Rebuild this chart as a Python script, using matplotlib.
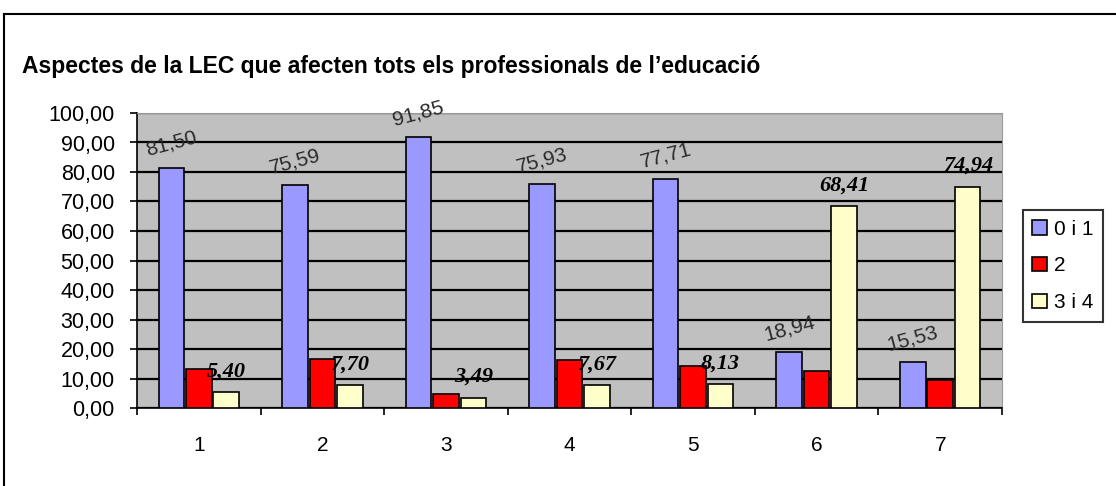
import numpy as np
import matplotlib
matplotlib.use('Agg')
import matplotlib.pyplot as plt
from matplotlib.lines import Line2D

# values
categories = ['1', '2', '3', '4', '5', '6', '7']
series_names = ['0 i 1', '2', '3 i 4']
val_01 = [81.50, 75.59, 91.85, 75.93, 77.71, 18.94, 15.53]
val_2 = [13.10, 16.71, 4.66, 16.40, 14.16, 12.65, 9.53]
val_34 = [5.40, 7.70, 3.49, 7.67, 8.13, 68.41, 74.94]
colors = ['#9999FF', '#FF0000', '#FFFFCC']


def fmt(v):
    return '{:.2f}'.format(v).replace('.', ',')


plt.rcParams['font.family'] = ['Liberation Sans', 'DejaVu Sans']

fig = plt.figure(figsize=(11.16, 4.86), dpi=100)
ax = fig.add_axes([137 / 1116, 78 / 486, 865 / 1116, 295 / 486])
ax.set_facecolor('#C0C0C0')

x = np.arange(len(categories))
w = 0.222
for i, vals in enumerate([val_01, val_2, val_34]):
    ax.bar(x + (i - 1) * w, vals, w * 0.93, color=colors[i],
           edgecolor='black', linewidth=1.2, label=series_names[i], zorder=3)

# labels on the first series, rotated
for xi, v in zip(x, val_01):
    ax.annotate(fmt(v), (xi - w, v), xytext=(0, 17), textcoords='offset points',
                ha='center', va='center', rotation=15, fontsize=15,
                color='#2a2a2a', zorder=5)

# labels on the last series, bold italic
for xi, v in zip(x, val_34):
    ax.annotate(fmt(v), (xi + w, v), xytext=(0, 15), textcoords='offset points',
                ha='center', va='center', fontsize=16, fontweight='bold',
                fontstyle='italic', family='Liberation Serif', zorder=5)

ax.set_ylim(0, 100)
ax.set_xlim(-0.5, len(categories) - 0.5)
ax.set_yticks(np.arange(0, 101, 10))
ax.set_yticklabels([fmt(t) for t in np.arange(0, 101, 10)], fontsize=15.5)
ax.yaxis.grid(True, color='black', linewidth=1.6, zorder=1)
ax.set_axisbelow(True)

ax.set_xticks(x)
ax.set_xticklabels(categories, fontsize=15)
ax.tick_params(axis='x', length=0, pad=20)
ax.set_xticks(np.arange(-0.5, len(categories)), minor=True)
ax.tick_params(axis='x', which='minor', length=5, width=1.2, direction='out')
ax.tick_params(axis='y', length=5, width=1.2, direction='out', pad=11)

for side in ['top', 'right']:
    ax.spines[side].set_color('#999999')
for side in ['left', 'bottom']:
    ax.spines[side].set_color('black')
    ax.spines[side].set_linewidth(1.2)

leg = ax.legend(loc='upper left', bbox_to_anchor=(1.024, 0.67),
                fontsize=15, frameon=True, fancybox=False, edgecolor='black',
                handlelength=0.7, handleheight=0.7, handletextpad=0.35,
                labelspacing=0.85, borderpad=0.45, borderaxespad=0)
leg.get_frame().set_linewidth(1.5)

fig.text(22 / 1116, 1 - 66 / 486,
         "Aspectes de la LEC que afecten tots els professionals de l\u2019educació",
         fontsize=16.5, fontweight='bold', va='center', ha='left')

# outer chart frame
fig.add_artist(Line2D([4 / 1116, 4 / 1116], [0, 1 - 14 / 486],
                      transform=fig.transFigure, color='black', linewidth=1.5))
fig.add_artist(Line2D([4 / 1116, 1], [1 - 14 / 486, 1 - 14 / 486],
                      transform=fig.transFigure, color='black', linewidth=1.5))

fig.savefig('out.png', dpi=100, facecolor='white')
